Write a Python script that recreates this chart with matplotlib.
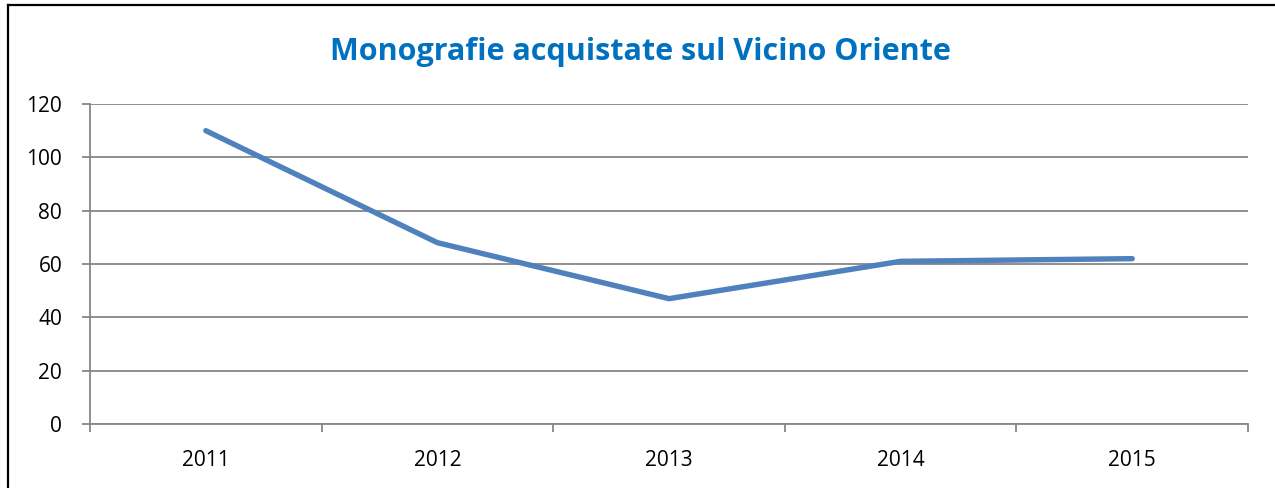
import matplotlib.pyplot as plt
from matplotlib.lines import Line2D

years = ['2011', '2012', '2013', '2014', '2015']
monografie = [110, 68, 47, 61, 62]
y_ticks = [0, 20, 40, 60, 80, 100, 120]

plt.rcParams['font.family'] = ['Open Sans', 'DejaVu Sans']

grid_col = '#878787'
line_col = '#4F81BD'
title_col = '#0070C0'

fig = plt.figure(figsize=(12.75, 4.88), dpi=100)
ax = fig.add_axes([90 / 1275, 1 - 424 / 488, (1248 - 90) / 1275, (424 - 104) / 488])

x = list(range(len(years)))
ax.plot(x, monografie, color=line_col, lw=3.9, solid_capstyle='round', solid_joinstyle='round', zorder=3)

ax.set_xlim(-0.5, len(years) - 0.5)
ax.set_ylim(0, 120)
ax.set_yticks(y_ticks)
ax.set_yticklabels([str(v) for v in y_ticks])

# category boundaries carry the tick marks, labels sit in the middle
ax.set_xticks([i - 0.5 for i in range(len(years) + 1)])
ax.set_xticklabels([])
ax.set_xticks(x, minor=True)
ax.set_xticklabels(years, minor=True)
ax.tick_params(axis='x', which='major', length=6, width=1.3, color=grid_col, direction='out')
ax.tick_params(axis='x', which='minor', length=0, pad=19, labelsize=15)
ax.tick_params(axis='y', length=6, width=1.3, color=grid_col, direction='out', pad=14, labelsize=15)

ax.grid(axis='y', color=grid_col, lw=1.3)
ax.set_axisbelow(True)
for s in ['top', 'right']:
    ax.spines[s].set_visible(False)
for s in ['left', 'bottom']:
    ax.spines[s].set_color(grid_col)
    ax.spines[s].set_linewidth(1.3)

fig.text(640 / 1275, 1 - 60 / 488, 'Monografie acquistate sul Vicino Oriente',
         ha='center', va='baseline', fontsize=22, fontweight='bold', color=title_col)

# chart border (only left and top edges are inside the picture)
fig.add_artist(Line2D([8 / 1275, 8 / 1275], [0, 1 - 5 / 488], color='black', lw=1.6, transform=fig.transFigure))
fig.add_artist(Line2D([8 / 1275, 1], [1 - 5 / 488, 1 - 5 / 488], color='black', lw=1.6, transform=fig.transFigure))

fig.savefig('out.png', dpi=100)
